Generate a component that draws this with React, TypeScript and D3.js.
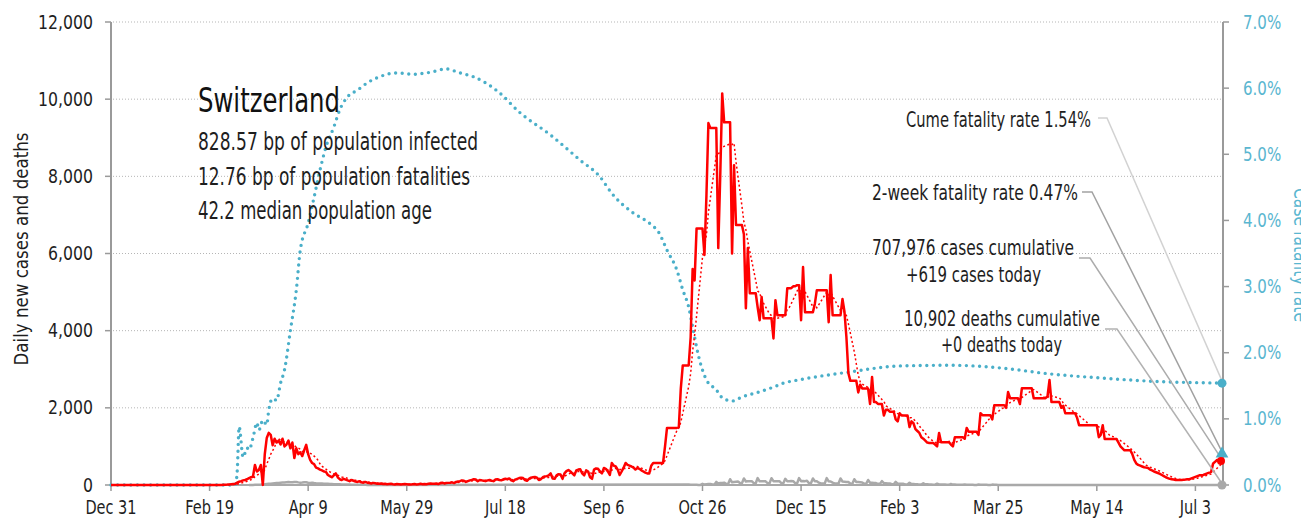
import React from 'react';
import * as d3 from 'd3';

// ---------- DATA ----------
const ORIGIN = Date.UTC(2019, 11, 31); // day 0 = Dec 31, 2019
const LAST_DAY = 564;

// daily new cases, each array starts at the given day index
const casesPre = { start: 0, values: new Array(56).fill(0) };
const casesSpring = { start: 56, values: [
  1, 5, 8, 10, 15, 20, 25, 30,
  60, 85, 100, 120, 130, 150, 180, 200,
  215, 520, 350, 390, 520, 0, 800, 1220, 1350, 1300,
  1030, 1200, 1100, 1150, 1050, 1200, 1000, 1050, 1150, 950,
  1100, 700, 950, 800, 850, 750, 900, 1040] };
const casesMay = { start: 100, values: [
  800, 650, 570, 540, 450, 430, 400, 380, 350, 340,
  260, 230, 200, 250, 300, 200, 150, 130, 160, 140,
  120, 100, 130, 110, 90, 80, 100, 70, 60, 80,
  60, 50, 40, 55, 45, 35, 30, 40, 25, 30,
  20, 25, 30, 20, 15, 25, 20, 15, 20, 25, 20] };
const casesSummer = { start: 151, values: [
  15, 10, 20, 25, 15, 20, 30, 20, 25, 20, 30, 40, 30, 35, 40, 25, 50, 60, 40, 50, 55,
  60, 70, 50, 80, 90, 100, 120, 110, 80, 100, 120, 130, 150, 140, 100, 130, 120, 110,
  100, 120, 130, 110, 100, 140, 150, 130, 120, 150, 160] };
const casesAugust = { start: 201, values: [
  150, 170, 120, 100, 140, 160, 180,
  190, 180, 130, 110, 160, 190, 200,
  210, 190, 130, 150, 200, 220, 230,
  250, 300, 170, 160, 250, 280, 270,
  160, 300, 360, 390, 350, 300, 250,
  380, 400, 410, 300, 250, 380, 350,
  200, 160, 400, 430, 420, 350, 300] };
const casesSeptember = { start: 250, values: [
  440, 420, 350, 260, 570, 500, 480, 400, 260, 350, 450, 570, 520,
  500, 480, 450, 400, 440, 420, 380, 350, 320, 300, 300, 500, 570] };
const casesOctober = { start: 276, values: [
  570, 570, 570, 570, 570, 1000, 1480, 1480, 1480, 1480, 1480, 1480, 1500,
  2500, 3100, 3100, 3100, 3100, 3830, 5600, 5300, 6650, 6650, 6650, 6650] };
const casesSecondWave = { start: 301, values: [
  5960, 7500, 9380, 9250, 9250, 9250, 9250, 6140, 8000, 10150,
  9400, 9400, 9400, 9400, 6000, 8290, 6740, 6740, 6740, 6740,
  6500, 4580, 6140, 4970, 4970, 4970, 4970, 4600, 4270, 4870,
  4320, 4320, 4320, 4320, 4320, 3800, 4790, 4400, 4400, 4400,
  4400, 4400, 5100, 5100, 5100, 5150, 5150, 5180, 5180, 4270,
  5650, 4480, 4480, 4480, 4480, 4480, 4700, 5050, 5050, 5050,
  5050, 5050, 5050, 4220, 5440, 4400, 4400, 4400, 4400, 4400,
  4820, 4500, 3830] };
const casesJanuary = { start: 374, values: [
  2900, 2700, 2700, 2700, 2700, 2400, 2600, 2500, 2500, 2500, 2500, 2100, 2800,
  2150, 2150, 2100, 2100, 2100, 1800, 1950, 1950, 1900, 1900, 1900, 1700, 1650, 1860] };
const cases2021 = { start: 401, values: [
  1800, 1800, 1800, 1800, 1500, 1650,
  1600, 1450, 1400, 1350,
  1240, 1200, 1150, 1100, 1090, 1090, 1090, 1050, 1000,
  1350,
  1110, 1110, 1110, 1110, 1110, 1050, 1000,
  1240, 1240, 1240, 1240, 1240, 1200, 1480,
  1380, 1380, 1380, 1380, 1380, 1300, 1860,
  1810, 1810, 1810, 1810, 1810, 1700, 2070,
  2070, 2070, 2070, 2070, 2070, 2000, 2410,
  2250, 2250, 2250, 2250, 2250, 2100, 2510,
  2510, 2510, 2510, 2510, 2510, 2250, 2250,
  2250, 2250, 2250, 2250, 2250, 2300, 2720,
  2150, 2150, 2150, 2150, 2150, 2000, 2050,
  1860, 1860, 1860, 1860, 1860, 1860, 1740,
  1550, 1550, 1550, 1550, 1550, 1550, 1550,
  1550, 1550, 1550, 1240, 1300, 1550, 1190,
  1190, 1190, 1190, 1190, 1190, 1190, 1100,
  1000, 950, 900, 900, 900, 900, 800,
  650, 560, 520, 500, 480, 460, 450,
  440, 400, 380, 350, 330, 310, 290,
  260, 230, 200, 180, 160, 150, 140,
  130, 130, 130, 130, 135, 140, 150,
  150, 170, 190, 210, 230, 250, 255,
  260, 280, 300, 320, 340, 560, 600,
  650, 620, 640, 619] };

// daily deaths
const deathsSpring = { start: 70, values: [
  1, 2, 3, 5, 6, 8, 10, 14, 18, 25,
  30, 35, 40, 45, 50, 55, 60, 62, 65, 70,
  75, 72, 70, 78, 80, 68, 60, 65, 72, 70,
  60, 55, 58, 50, 45, 42, 40, 38, 35, 32,
  30, 28, 25, 22, 20, 18, 17, 15, 14, 12,
  10, 10, 9, 8, 7, 6, 5, 5, 4, 4,
  3, 3, 3, 2, 2, 2, 2, 1, 1, 1] };
const deathsAutumn = { start: 293, values: [
  10, 5, 6, 7, 8, 3, 3,
  30, 15, 20, 25, 28, 12, 10,
  80, 40, 50, 55, 60, 30, 25,
  150, 70, 80, 85, 90, 50, 45,
  170, 90, 95, 100, 100, 50, 45,
  180, 95, 100, 100, 95, 50, 45,
  175, 100, 100, 95, 100, 50, 45,
  160, 95, 100, 105, 100, 50, 45,
  180, 100, 105, 100, 110, 50, 45,
  170, 100, 95, 60, 40, 40, 40,
  180, 95, 90, 60, 40, 40, 40,
  170, 90, 85, 80, 75, 40, 35,
  150, 80, 75, 70, 65, 35, 30,
  130, 60, 60, 55, 50, 30, 25,
  100, 50, 45, 40, 40, 20, 20,
  80, 35, 35, 30, 30, 15, 15,
  60, 25, 25, 20, 20, 10, 10,
  45, 18, 18, 15, 15, 8, 8,
  35, 15, 12, 12, 10, 5, 5,
  25, 10, 10, 8, 8, 4, 4] };
const deathsSpring2021 = { start: 433, values: [
  15, 6, 6, 5, 5, 2, 2,
  12, 5, 5, 4, 4, 2, 2,
  10, 4, 4, 3, 3, 2, 2] };
const deathsSummer2021 = { start: 560, values: [3, 2, 1, 1, 0] };

// case fatality rate (cumulative deaths / cumulative cases), %
const cfrDays = [0, 63, 64, 65, 67, 69, 70, 72, 74, 75, 77, 79, 80, 82, 84, 86, 88, 91, 94, 96,
  100, 103, 106, 109, 113, 116, 120, 125, 130, 136, 145, 153, 162, 170, 177, 184, 190, 197,
  207, 223, 238, 248, 254, 265, 273, 278, 282, 287, 290, 293, 295, 298, 302, 307, 310, 315,
  320, 329, 336, 341, 349, 375, 400, 426, 451, 476, 501, 527, 564];
const cfrPct = [0, 0, 0.2, 0.88, 0.42, 0.56, 0.53, 0.71, 0.94, 0.83, 0.98, 0.91, 1.13, 1.31, 1.28, 1.54, 1.74, 2.34, 2.95, 3.55,
  3.96, 4.35, 4.76, 5.11, 5.41, 5.67, 5.87, 5.97, 6.08, 6.17, 6.23, 6.21, 6.24, 6.29, 6.23, 6.17, 6.08, 5.93,
  5.64, 5.29, 4.91, 4.66, 4.41, 4.11, 3.96, 3.81, 3.55, 3.25, 2.95, 2.69, 2.39, 1.95, 1.59, 1.44, 1.32, 1.27,
  1.33, 1.41, 1.48, 1.54, 1.59, 1.71, 1.80, 1.81, 1.77, 1.68, 1.62, 1.57, 1.54];

const twoWeekCfrPct = 0.47;
const casesToday = 619;
const deathsToday = 0;

const xTickDays = [0, 50, 100, 150, 200, 250, 300, 350, 400, 450, 500, 550];
const yLeftTicks = [0, 2000, 4000, 6000, 8000, 10000, 12000];
const yRightTicks = [0, 0.01, 0.02, 0.03, 0.04, 0.05, 0.06, 0.07];

const country = 'Switzerland';
const infoLines = [
  '828.57 bp of population infected',
  '12.76 bp of population fatalities',
  '42.2 median population age',
];
const notes = {
  cume: 'Cume fatality rate 1.54%',
  twoWeek: '2-week fatality rate 0.47%',
  cases1: '707,976 cases cumulative',
  cases2: '+619 cases today',
  deaths1: '10,902 deaths cumulative',
  deaths2: '+0 deaths today',
};

// ---------- HELPERS ----------
const dayDate = (d: number) => new Date(ORIGIN + d * 86400000);
function buildSeries(segs: { start: number; values: number[] }[]) {
  const m = new Map<number, number>();
  segs.forEach((s) => s.values.forEach((v, i) => m.set(s.start + i, v)));
  return Array.from(m.entries()).sort((a, b) => a[0] - b[0]).map(([d, v]) => ({ d, v }));
}

const FONT = "'Liberation Sans Narrow', 'DejaVu Sans Condensed', 'Roboto', sans-serif";
const BLUE = '#4aafc9';
const BLUE_TXT = '#5ab6d0';
const INK = '#1e1e1e';

function SText(props: { x: number; y: number; sx: number; anchor?: string; size: number; fill: string; children: React.ReactNode }) {
  const { x, y, sx, anchor, size, fill, children } = props;
  return (
    <g transform={`translate(${x},${y}) scale(${sx},1)`}>
      <text textAnchor={anchor || 'start'} fontSize={size} fill={fill}>{children}</text>
    </g>
  );
}

export default function App() {
  const W = 1301, H = 525;
  const x0 = 111, x1 = 1223, yTop = 22, yBot = 485;
  const x = d3.scaleUtc().domain([dayDate(0), dayDate(LAST_DAY)]).range([x0, x1]);
  const yL = d3.scaleLinear().domain([0, 12000]).range([yBot, yTop]);
  const yR = d3.scaleLinear().domain([0, 0.07]).range([yBot, yTop]);
  const fmtDate = d3.utcFormat('%b %-d');
  const fmtL = d3.format(',');
  const fmtR = d3.format('.1%');

  const cases = buildSeries([casesPre, casesSpring, casesMay, casesSummer, casesAugust, casesSeptember,
    casesOctober, casesSecondWave, casesJanuary, cases2021]);
  const avg = cases.map((p, i) => {
    const win = cases.slice(Math.max(0, i - 6), i + 1);
    return { d: p.d, v: d3.mean(win, (q) => q.v) as number };
  });
  const deaths = buildSeries([deathsSpring, deathsAutumn, deathsSpring2021, deathsSummer2021]);
  const cfr = cfrDays.map((d, i) => ({ d, v: cfrPct[i] / 100 }));

  const lineL = d3.line<{ d: number; v: number }>().x((p) => x(dayDate(p.d))).y((p) => yL(p.v));
  const lineR = d3.line<{ d: number; v: number }>().x((p) => x(dayDate(p.d))).y((p) => yR(p.v)).curve(d3.curveMonotoneX);

  const endX = x(dayDate(LAST_DAY));
  const cumeY = yR(cfrPct[cfrPct.length - 1] / 100);
  const twY = yR(twoWeekCfrPct / 100);
  const caseY = yL(casesToday);
  const deathY = yL(deathsToday);

  const tri = d3.symbol().type(d3.symbolTriangle).size(70)();

  return (
    <svg width={W} height={H} style={{ display: 'block', position: 'absolute', left: 0, top: 0 }} fontFamily={FONT}>
      <rect width={W} height={H} fill="#fff" />
      {/* grid */}
      {yLeftTicks.filter((t) => t > 0).map((t) => (
        <line key={t} x1={x0 + 2} x2={x1} y1={yL(t)} y2={yL(t)} stroke="#b5b5b5" strokeWidth={1} strokeDasharray="1 2" />
      ))}
      {/* left axis */}
      <line x1={x0} x2={x0} y1={yTop} y2={yBot} stroke="#9a9a9a" strokeWidth={2} />
      {yLeftTicks.map((t) => (
        <g key={t}>
          <line x1={x0 - 6} x2={x0} y1={yL(t)} y2={yL(t)} stroke="#9a9a9a" strokeWidth={1.5} />
          <SText x={93} y={yL(t) + 6.5} sx={0.92} anchor="end" size={19} fill={INK}>{fmtL(t)}</SText>
        </g>
      ))}
      {/* right axis */}
      <line x1={x1} x2={x1} y1={yTop} y2={yBot} stroke="#9a9a9a" strokeWidth={2} />
      {yRightTicks.map((t) => (
        <g key={t}>
          <line x1={x1} x2={x1 + 6} y1={yR(t)} y2={yR(t)} stroke="#9a9a9a" strokeWidth={1.5} />
          <SText x={1243} y={yR(t) + 6.5} sx={0.88} size={19} fill={BLUE_TXT}>{fmtR(t)}</SText>
        </g>
      ))}
      {/* x axis */}
      <line x1={x0} x2={x1} y1={yBot} y2={yBot} stroke="#a8a8a8" strokeWidth={2} />
      {xTickDays.map((d) => (
        <g key={d}>
          <line x1={x(dayDate(d))} x2={x(dayDate(d))} y1={yBot} y2={yBot + 6} stroke="#9a9a9a" strokeWidth={1.5} />
          <SText x={x(dayDate(d))} y={514} sx={0.85} anchor="middle" size={19} fill={INK}>{fmtDate(dayDate(d))}</SText>
        </g>
      ))}
      {/* axis titles */}
      <text transform="translate(28,249) rotate(-90)" textAnchor="middle" fontSize={20} fill={INK}
        textLength={233} lengthAdjust="spacingAndGlyphs">Daily new cases and deaths</text>
      <text transform="translate(1294,255) rotate(90)" textAnchor="middle" fontSize={20} fill={BLUE_TXT}
        textLength={134} lengthAdjust="spacingAndGlyphs">Case fatality rate</text>

      {/* series */}
      <path d={lineR(cfr) || ''} fill="none" stroke={BLUE} strokeWidth={3.4} strokeDasharray="0 6.6" strokeLinecap="round" />
      <path d={lineL(deaths) || ''} fill="none" stroke="#a9a9a9" strokeWidth={2.5} strokeLinejoin="round" />
      <path d={lineL(avg) || ''} fill="none" stroke="#ff0000" strokeWidth={1.5} strokeDasharray="2 2.5" />
      <path d={lineL(cases) || ''} fill="none" stroke="#ff0000" strokeWidth={2.5} strokeLinejoin="round" />

      {/* country info */}
      <text x={198} y={112} fontSize={33} fill="#111" textLength={142} lengthAdjust="spacingAndGlyphs">{country}</text>
      {infoLines.map((t, i) => (
        <text key={t} x={198} y={[150, 185, 219][i]} fontSize={24} fill={INK}
          textLength={[280, 272, 234][i]} lengthAdjust="spacingAndGlyphs">{t}</text>
      ))}

      {/* annotations */}
      <polyline points={`1098,118 1107,118 ${endX},${cumeY}`} fill="none" stroke="#d2d2d2" strokeWidth={1.5} />
      <polyline points={`1082,192 1092,192 ${endX},${twY}`} fill="none" stroke="#a2a2a2" strokeWidth={1.5} />
      <polyline points={`1079,258 1090,258 ${endX},${caseY}`} fill="none" stroke="#acacac" strokeWidth={1.5} />
      <polyline points={`1105,329 1117,329 ${endX},${deathY}`} fill="none" stroke="#b2b2b2" strokeWidth={1.5} />
      <text x={1091} y={127} textAnchor="end" fontSize={20.5} fill={INK} textLength={185} lengthAdjust="spacingAndGlyphs">{notes.cume}</text>
      <text x={1078} y={200} textAnchor="end" fontSize={20.5} fill={INK} textLength={206} lengthAdjust="spacingAndGlyphs">{notes.twoWeek}</text>
      <text x={973} y={255} textAnchor="middle" fontSize={20.5} fill={INK} textLength={202} lengthAdjust="spacingAndGlyphs">{notes.cases1}</text>
      <text x={973.5} y={282} textAnchor="middle" fontSize={20.5} fill={INK} textLength={135} lengthAdjust="spacingAndGlyphs">{notes.cases2}</text>
      <text x={1002} y={326} textAnchor="middle" fontSize={20.5} fill={INK} textLength={196} lengthAdjust="spacingAndGlyphs">{notes.deaths1}</text>
      <text x={1001.5} y={352} textAnchor="middle" fontSize={20.5} fill={INK} textLength={121} lengthAdjust="spacingAndGlyphs">{notes.deaths2}</text>

      {/* end markers */}
      <circle cx={endX - 1} cy={cumeY} r={4.5} fill={BLUE} />
      <path d={tri || ''} transform={`translate(${endX - 1},${twY})`} fill={BLUE} />
      <circle cx={endX - 2} cy={caseY} r={4} fill="#ff0000" />
      <circle cx={endX - 1} cy={deathY} r={4.5} fill="#a9a9a9" />
    </svg>
  );
}
